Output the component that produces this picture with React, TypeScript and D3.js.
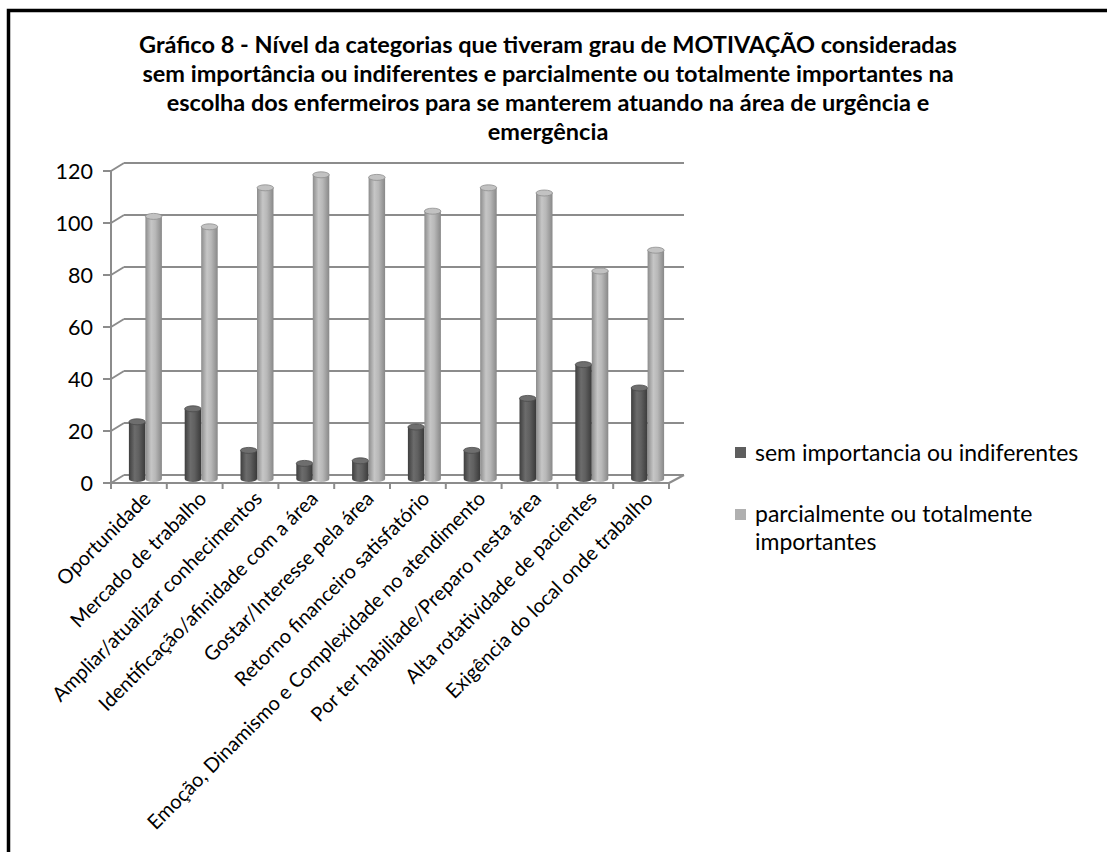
import React from "react";
import * as d3 from "d3";

const titleLines = [
  "Gráfico 8 - Nível da categorias que tiveram grau de MOTIVAÇÃO consideradas",
  "sem importância ou indiferentes e parcialmente ou totalmente importantes na",
  "escolha dos enfermeiros para se manterem atuando na área de urgência e",
  "emergência",
];

const categories = [
  "Oportunidade",
  "Mercado de trabalho",
  "Ampliar/atualizar conhecimentos",
  "Identificação/afinidade com a área",
  "Gostar/Interesse pela área",
  "Retorno financeiro satisfatório",
  "Emoção, Dinamismo e Complexidade no atendimento",
  "Por ter habiliade/Preparo nesta área",
  "Alta rotatividade de pacientes",
  "Exigência do local onde trabalho",
];

const semImportancia = [22, 27, 11, 6, 7, 20, 11, 31, 44, 35];
const importantes = [101, 97, 112, 117, 116, 103, 112, 110, 80, 88];

const seriesNames = ["sem importancia ou indiferentes", "parcialmente ou totalmente importantes"];
const yTicks = [0, 20, 40, 60, 80, 100, 120];

const W = 1107;
const H = 852;
const left = 111;
const right = 669;
const top = 171;
const bottom = 483;
const DX = 13;
const DY = -8;

export default function App() {
  const y = d3.scaleLinear().domain([0, 120]).range([bottom, top]);
  const x = d3.scaleBand<string>().domain(categories).range([left, right]).paddingInner(0);
  const groupW = 33;
  const xs = d3.scaleBand<number>().domain([0, 1]).range([0, groupW]);
  const bw = xs.bandwidth();
  const ry = 3;
  const series = [semImportancia, importantes];
  const gradIds = ["gDark", "gLight"];
  const topFill = ["#6e6e6e", "#c2c2c2"];
  const topStroke = ["#4a4a4a", "#8e8e8e"];
  const font = "Lato, 'Open Sans', sans-serif";
  const titleFont = "Lato, 'Open Sans', sans-serif";

  return (
    <svg width={W} height={H} style={{ position: "absolute", left: 0, top: 0, background: "#fff" }}>
      <defs>
        <linearGradient id="gDark" x1="0" x2="1" y1="0" y2="0">
          <stop offset="0" stopColor="#3e3e3e" />
          <stop offset="0.35" stopColor="#6c6c6c" />
          <stop offset="0.6" stopColor="#606060" />
          <stop offset="1" stopColor="#3a3a3a" />
        </linearGradient>
        <linearGradient id="gLight" x1="0" x2="1" y1="0" y2="0">
          <stop offset="0" stopColor="#8c8c8c" />
          <stop offset="0.35" stopColor="#c6c6c6" />
          <stop offset="0.6" stopColor="#b8b8b8" />
          <stop offset="1" stopColor="#888888" />
        </linearGradient>
      </defs>
      <rect x={0} y={0} width={W} height={H} fill="#fff" />
      <path d={`M8.5,${H} V10.5 H${W}`} fill="none" stroke="#000" strokeWidth={3.5} />

      {titleLines.map((t, i) => (
        <text
          key={i}
          x={548}
          y={53 + i * 29}
          textAnchor="middle"
          fontFamily={titleFont}
          fontWeight="bold"
          fontSize={23.5}
          fill="#000"
        >
          {t}
        </text>
      ))}

      {/* gridlines on back wall and left wall connectors */}
      {yTicks.map((t) => (
        <g key={t}>
          <line x1={left + DX} x2={right + DX + 2} y1={y(t) + DY} y2={y(t) + DY} stroke="#8c8c8c" strokeWidth={2} />
          <line x1={left} x2={left + DX} y1={y(t)} y2={y(t) + DY} stroke="#8c8c8c" strokeWidth={2} />
          <line x1={left - 8} x2={left} y1={y(t)} y2={y(t)} stroke="#8c8c8c" strokeWidth={2} />
          <text x={93} y={y(t)} dy="0.36em" textAnchor="end" fontFamily={font} fontSize={21.5} fill="#000">
            {t}
          </text>
        </g>
      ))}
      <line x1={left} x2={left} y1={top} y2={bottom} stroke="#8c8c8c" strokeWidth={2} />
      <line x1={left} x2={right} y1={bottom} y2={bottom} stroke="#8c8c8c" strokeWidth={2} />
      <line x1={right} x2={right + DX + 2} y1={bottom} y2={bottom + DY} stroke="#8c8c8c" strokeWidth={2} />
      {d3.range(categories.length + 1).map((i) => {
        const xx = left + i * x.step();
        return <line key={i} x1={xx} x2={xx} y1={bottom} y2={bottom + 6} stroke="#8c8c8c" strokeWidth={2} />;
      })}

      {/* bars */}
      {categories.map((c, ci) => {
        const gx = (x(c) as number) + x.bandwidth() / 2 + DX / 2 - groupW / 2;
        return (
          <g key={c}>
            {series.map((s, si) => {
              const bx = gx + (xs(si) as number);
              const yb = y(0) + DY / 2;
              const yt = y(s[ci]) + DY / 2;
              return (
                <g key={si}>
                  <path
                    d={`M${bx},${yt} V${yb} A${bw / 2},${ry} 0 0 0 ${bx + bw},${yb} V${yt} Z`}
                    fill={`url(#${gradIds[si]})`}
                  />
                  <ellipse cx={bx + bw / 2} cy={yt} rx={bw / 2} ry={ry} fill={topFill[si]} stroke={topStroke[si]} strokeWidth={0.8} />
                </g>
              );
            })}
          </g>
        );
      })}

      {/* category labels */}
      {categories.map((c) => {
        const cx = (x(c) as number) + x.bandwidth() / 2;
        return (
          <text
            key={c}
            transform={`translate(${cx + 8},${bottom + 12}) rotate(-45)`}
            textAnchor="end"
            dy="0.35em"
            fontFamily={font}
            fontSize={20}
            fill="#000"
          >
            {c}
          </text>
        );
      })}

      {/* legend */}
      <rect x={735} y={447} width={11} height={11} fill="#5e5e5e" />
      <text x={755} y={461} fontFamily={font} fontSize={23} fill="#000">
        {seriesNames[0]}
      </text>
      <rect x={735} y={509} width={11} height={11} fill="#b0b0b0" />
      <text x={755} y={522} fontFamily={font} fontSize={23} fill="#000">
        <tspan x={755}>parcialmente ou totalmente</tspan>
        <tspan x={755} dy={28}>importantes</tspan>
      </text>
    </svg>
  );
}
